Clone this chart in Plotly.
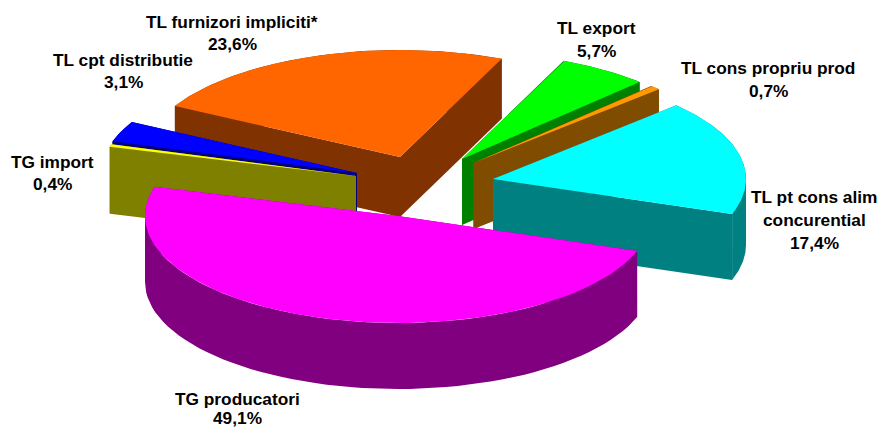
import numpy as np
import plotly.graph_objects as go

# Data, clockwise from the first slice
categories = ["TL export", "TL cons propriu prod", "TL pt cons alim\nconcurential", "TG producatori",
              "TG import", "TL cpt distributie", "TL furnizori impliciti*"]
values = [5.7, 0.7, 17.4, 49.1, 0.4, 3.1, 23.6]

# Styles
top_colors = ["#00FF00", "#FF9900", "#00FFFF", "#FF00FF", "#FFFF00", "#0000FF", "#FF6600"]
wall_colors = ["#008000", "#804C00", "#008080", "#800080", "#808000", "#000080", "#803300"]

# Layout of the exploded pie (pixel space of the axes)
apex_x = [462, 473.5, 493, 398, 356, 357, 400]
apex_y = [159, 163, 179, 216, 176, 173, 157]
radius_x = [256, 256, 253, 253, 256, 256, 256]
depths = [66, 66, 66, 66, 67, 66, 60]
label_x = [596, 768, 814, 237, 52, 123, 232]
label_y = [28, 68, 197, 399, 162, 60, 22]
line_gaps = [23, 23, 23, 19, 22, 22, 22]
RY = 107
START_ANGLE = -66.6
DRAW_ORDER = [6, 5, 4, 0, 1, 2, 3]  # back to front

fig = go.Figure()


def poly(x, y, color, name):
    fig.add_trace(go.Scatter(x=np.append(x, x[0]), y=np.append(y, y[0]), mode="lines", fill="toself",
                             fillcolor=color, line=dict(width=0, color=color),
                             hoverinfo="skip", showlegend=False, name=name))


edges = START_ANGLE + np.concatenate([[0], np.cumsum(values)]) / sum(values) * 360
for i in DRAW_ORDER:
    a0, a1 = edges[i], edges[i + 1]
    ax, ay, d, rx = apex_x[i], apex_y[i], depths[i], radius_x[i]
    # outer wall, split where the silhouette folds (leftmost / rightmost point)
    folds = [m * 180.0 for m in range(-2, 4) if a0 < m * 180.0 < a1]
    stops = [a0] + folds + [a1]
    for s0, s1 in zip(stops[:-1], stops[1:]):
        t = np.radians(np.linspace(s0, s1, 60))
        ex = ax + rx * np.cos(t)
        ey = ay + RY * np.sin(t)
        poly(np.r_[ex, ex[::-1]], np.r_[ey, ey[::-1] + d], wall_colors[i], categories[i])
    t = np.radians(np.linspace(a0, a1, 120))
    ex = ax + rx * np.cos(t)
    ey = ay + RY * np.sin(t)
    # radial walls
    for k in (0, -1):
        poly(np.array([ax, ex[k], ex[k], ax]), np.array([ay, ey[k], ey[k] + d, ay + d]),
             wall_colors[i], categories[i])
    # top face
    poly(np.r_[ax, ex], np.r_[ay, ey], top_colors[i], categories[i])

annotations = []
for cat, v, lx, ly, gap in zip(categories, values, label_x, label_y, line_gaps):
    lines = cat.split("\n") + [f"{v:.1f}%".replace(".", ",")]
    for j, line in enumerate(lines):
        annotations.append(dict(x=lx, y=ly + j * gap, text=f"<b>{line}</b>", showarrow=False,
                                xref="x", yref="y", xanchor="center", yanchor="middle", borderpad=0,
                                font=dict(family="Liberation Sans", size=17.3, color="black")))

fig.update_layout(
    width=879, height=430, margin=dict(l=0, r=0, t=0, b=0),
    paper_bgcolor="white", plot_bgcolor="white", annotations=annotations, showlegend=False,
    xaxis=dict(range=[0, 879], visible=False, fixedrange=True),
    yaxis=dict(range=[430, 0], visible=False, fixedrange=True),
)
fig.write_html("out.html", config={"displayModeBar": False},
               post_script="document.body.style.margin='0';document.documentElement.style.overflow='hidden';")
